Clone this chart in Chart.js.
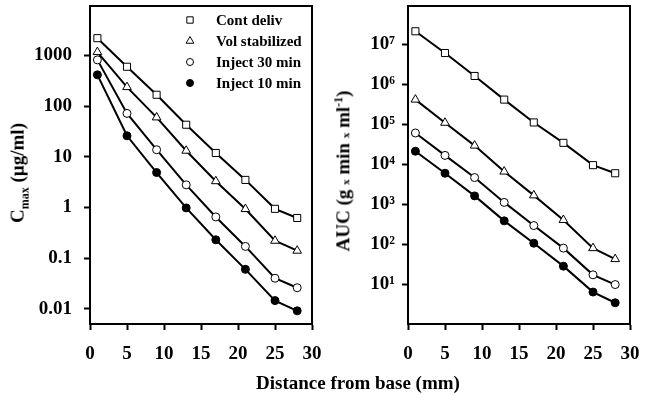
<!DOCTYPE html>
<html>
<head>
<meta charset="utf-8">
<script src="https://cdn.jsdelivr.net/npm/chart.js@4"></script>
<style>
  body { margin: 0; background: #fff; }
  #wrap { position: relative; width: 651px; height: 395px; overflow: hidden; background: #fff; }
  canvas { position: absolute; top: 0; }
  .title { position: absolute; font: bold 19px "Liberation Serif", "Times New Roman", serif; color: #000; white-space: nowrap; line-height: 22px; }
  .rot { transform: translate(-50%, -50%) rotate(-90deg); }
  .small { font-size: 11px; }
</style>
</head>
<body>
<div id="wrap">
  <canvas id="cmaxChart" width="325" height="395" style="left:0"></canvas>
  <canvas id="aucChart" width="326" height="395" style="left:325px"></canvas>
  <div class="title rot" style="left:21px; top:173px">C<sub style="font-size:12px">max</sub> (µg/ml)</div>
  <div class="title rot" style="left:342px; top:171px">AUC (g <span class="small">x</span> min <span class="small">x</span> ml<sup style="font-size:12px">-1</sup>)</div>
  <div class="title" style="left:358px; top:372px; transform:translateX(-50%)">Distance from base (mm)</div>
</div>
<script>
// distances from base (mm)
const distances = [1, 5, 9, 13, 17, 21, 25, 28];
const seriesNames = ['Cont deliv', 'Vol stabilized', 'Inject 30 min', 'Inject 10 min'];

// Cmax (ug/ml)
const cmaxContDeliv = [2200, 600, 168, 43, 11.9, 3.5, 0.94, 0.62];
const cmaxVolStab = [1170, 238, 60, 13.2, 3.3, 0.93, 0.22, 0.14];
const cmaxInject30 = [820, 72, 13.8, 2.8, 0.65, 0.17, 0.040, 0.026];
const cmaxInject10 = [415, 26, 4.9, 0.98, 0.23, 0.06, 0.0145, 0.0091];

// AUC (g x min x ml-1)
const aucContDeliv = [2.1e7, 6.0e6, 1.6e6, 4.1e5, 1.1e5, 3.4e4, 9.4e3, 5.9e3];
const aucVolStab = [4.1e5, 1.08e5, 2.9e4, 6.5e3, 1.65e3, 400, 79, 42];
const aucInject30 = [6.0e4, 1.65e4, 4.6e3, 1.1e3, 290, 79, 17, 9.7];
const aucInject10 = [2.1e4, 5.9e3, 1.6e3, 380, 105, 28, 6.3, 3.4];

// tick values / labels
const xTicks = [0, 5, 10, 15, 20, 25, 30];
const cmaxTicks = [0.01, 0.1, 1, 10, 100, 1000];
const cmaxTickLabels = ['0.01', '0.1', '1', '10', '100', '1000'];
const aucTicks = [10, 100, 1000, 1e4, 1e5, 1e6, 1e7];
const aucTickLabels = ['10¹', '10²', '10³', '10⁴', '10⁵', '10⁶', '10⁷'];

const FONT = '"Liberation Serif", "Times New Roman", serif';

// marker styles for the 4 series
const markers = [
    { pointStyle: 'rect', pointRadius: 5, fill: '#fff' },
    { pointStyle: 'triangle', pointRadius: 5, fill: '#fff' },
    { pointStyle: 'circle', pointRadius: 4, fill: '#fff' },
    { pointStyle: 'circle', pointRadius: 4, fill: '#000' }
];

function makeDatasets(seriesList) {
    return seriesList.map(function(values, i) {
        return {
            label: seriesNames[i],
            data: distances.map(function(d, j) { return { x: d, y: values[j] }; }),
            borderColor: '#000',
            borderWidth: 2,
            pointStyle: markers[i].pointStyle,
            pointRadius: markers[i].pointRadius,
            pointBackgroundColor: markers[i].fill,
            pointBorderColor: '#000',
            pointBorderWidth: 1,
            tension: 0,
            fill: false
        };
    });
}

// frame (top + right edges) and the legend inside the left plot
const decorPlugin = {
    id: 'decor',
    afterDraw: function(chart, args, opts) {
        const a = chart.chartArea;
        const ctx = chart.ctx;
        ctx.save();
        ctx.strokeStyle = '#000';
        ctx.lineWidth = 2;
        ctx.beginPath();
        ctx.moveTo(a.left, a.top);
        ctx.lineTo(a.right, a.top);
        ctx.lineTo(a.right, a.bottom);
        ctx.stroke();
        ctx.restore();

        if (!opts || !opts.legend) return;
        const rowY = [20, 41, 62, 83];
        chart.data.datasets.forEach(function(ds, i) {
            const m = markers[i];
            ctx.save();
            ctx.fillStyle = m.fill;
            ctx.strokeStyle = '#000';
            ctx.lineWidth = 1;
            Chart.helpers.drawPoint(ctx, {
                pointStyle: m.pointStyle,
                radius: m.pointRadius - 0.5,
                borderWidth: 1,
                rotation: 0
            }, 190, rowY[i]);
            ctx.font = 'bold 15px ' + FONT;
            ctx.textBaseline = 'middle';
            ctx.fillStyle = '#000';
            ctx.fillText(ds.label, 216, rowY[i] + 1);
            ctx.restore();
        });
    }
};

function makeChart(id, seriesList, yMin, yMax, yTicks, yLabels, yWidth, rightPad, tickPad, showLegend) {
    const ctx = document.getElementById(id).getContext('2d');
    return new Chart(ctx, {
        type: 'line',
        data: { datasets: makeDatasets(seriesList) },
        options: {
            responsive: false,
            animation: false,
            layout: { padding: { top: 6, right: rightPad, left: 0, bottom: 0 } },
            plugins: {
                legend: { display: false },
                tooltip: { enabled: false },
                decor: { legend: showLegend }
            },
            scales: {
                x: {
                    type: 'linear',
                    min: 0,
                    max: 30,
                    afterBuildTicks: function(scale) {
                        scale.ticks = xTicks.map(function(v) { return { value: v }; });
                    },
                    afterFit: function(scale) {
                        scale.height = 71;
                        scale.paddingLeft = 0;
                        scale.paddingRight = 0;
                    },
                    ticks: {
                        color: '#000',
                        padding: 13,
                        maxRotation: 0,
                        font: { family: FONT, size: 19, weight: 'bold' }
                    },
                    grid: { drawOnChartArea: false, tickLength: 6, tickColor: '#000', tickWidth: 2 },
                    border: { display: true, color: '#000', width: 2 }
                },
                y: {
                    type: 'logarithmic',
                    min: yMin,
                    max: yMax,
                    afterBuildTicks: function(scale) {
                        scale.ticks = yTicks.map(function(v) { return { value: v }; });
                    },
                    afterFit: function(scale) {
                        scale.width = yWidth;
                        scale.paddingTop = 0;
                        scale.paddingBottom = 0;
                    },
                    ticks: {
                        color: '#000',
                        padding: tickPad,
                        font: { family: FONT, size: 19, weight: 'bold' },
                        callback: function(value) {
                            const k = yTicks.indexOf(value);
                            return k >= 0 ? yLabels[k] : '';
                        }
                    },
                    grid: { drawOnChartArea: false, tickLength: 6, tickColor: '#000', tickWidth: 2 },
                    border: { display: true, color: '#000', width: 2 }
                }
            }
        },
        plugins: [decorPlugin]
    });
}

makeChart('cmaxChart', [cmaxContDeliv, cmaxVolStab, cmaxInject30, cmaxInject10],
    0.005, 9500, cmaxTicks, cmaxTickLabels, 90, 13, 12, true);
makeChart('aucChart', [aucContDeliv, aucVolStab, aucInject30, aucInject10],
    1, 9e7, aucTicks, aucTickLabels, 83, 21, 7, false);
</script>
</body>
</html>
